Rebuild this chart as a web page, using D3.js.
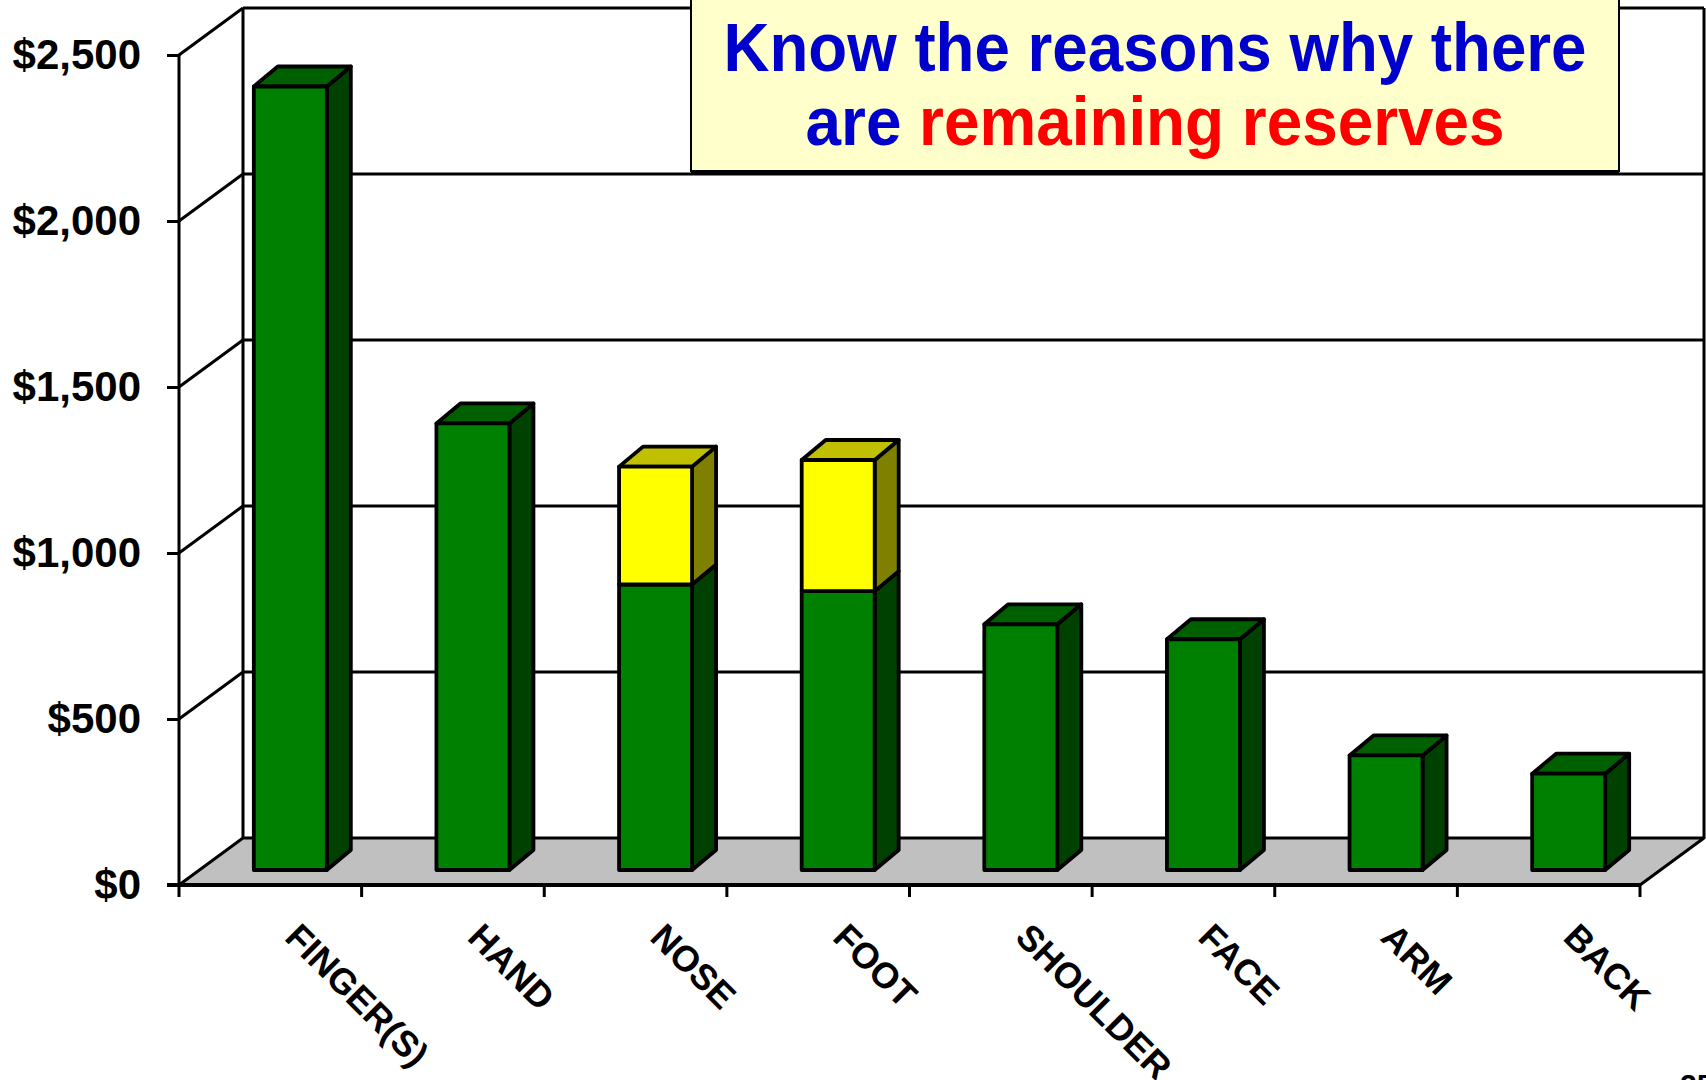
<!DOCTYPE html>
<html>
<head>
<meta charset="utf-8">
<script src="https://cdn.jsdelivr.net/npm/d3@7"></script>
<style>
  html, body { margin: 0; padding: 0; background: #ffffff; }
  svg { display: block; }
  text { font-family: "Liberation Sans", Arial, Helvetica, sans-serif; font-weight: bold; }
</style>
</head>
<body>
<svg id="chart" width="1706" height="1080"></svg>
<script>
// ---------------- data ----------------
const categories = ["FINGER(S)", "HAND", "NOSE", "FOOT", "SHOULDER", "FACE", "ARM", "BACK"];
const paidValues = [2360, 1345, 860, 840, 740, 695, 345, 290];
const reserveValues = [0, 0, 355, 395, 0, 0, 0, 0];
const yTicks = [0, 500, 1000, 1500, 2000, 2500];
const titleLine1 = "Know the reasons why there";
const titleLine2a = "are ";
const titleLine2b = "remaining reserves";
const pageNumber = "25";

// ---------------- layout ----------------
const svg = d3.select("#chart");
const plot = { left: 179, right: 1640, bottom: 885, top: 55 };
const wall = { dx: 64, dy: -47 };
const barShift = { dx: 20, dy: -15 };
const barDepth = { dx: 24, dy: -20 };
const barWidth = 73;
const lw = 3;
const barLw = 3.8;

const y = d3.scaleLinear().domain([0, 2500]).range([plot.bottom, plot.top]);
const x = d3.scaleBand().domain(categories).range([plot.left, plot.right]).padding(0);

const colors = {
  green: { front: "#008000", top: "#006000", side: "#004000" },
  yellow: { front: "#ffff00", top: "#c0c000", side: "#808000" }
};

// ---------------- walls ----------------
const gWalls = svg.append("g");
gWalls.selectAll("line.bgrid").data(yTicks.filter(d => d > 0)).enter().append("line")
  .attr("x1", plot.left + wall.dx).attr("x2", plot.right + wall.dx)
  .attr("y1", d => y(d) + wall.dy).attr("y2", d => y(d) + wall.dy)
  .attr("stroke", "#000").attr("stroke-width", lw);
gWalls.selectAll("line.sgrid").data(yTicks.filter(d => d > 0)).enter().append("line")
  .attr("x1", plot.left).attr("x2", plot.left + wall.dx)
  .attr("y1", d => y(d)).attr("y2", d => y(d) + wall.dy)
  .attr("stroke", "#000").attr("stroke-width", lw);
[plot.left + wall.dx, plot.right + wall.dx].forEach(xx => {
  gWalls.append("line")
    .attr("x1", xx).attr("x2", xx)
    .attr("y1", y(0) + wall.dy).attr("y2", y(2500) + wall.dy)
    .attr("stroke", "#000").attr("stroke-width", lw);
});

// floor
const floorPts = [
  [plot.left, y(0)], [plot.right, y(0)],
  [plot.right + wall.dx, y(0) + wall.dy], [plot.left + wall.dx, y(0) + wall.dy]
];
svg.append("polygon")
  .attr("points", floorPts.map(p => p.join(",")).join(" "))
  .attr("fill", "#c0c0c0").attr("stroke", "#000").attr("stroke-width", lw)
  .attr("stroke-linejoin", "round");

// ---------------- bars ----------------
const segments = [];
categories.forEach((c, i) => {
  const g = paidValues[i], r = reserveValues[i];
  segments.push({ c, v0: 0, v1: g, col: colors.green, isTop: r === 0 });
  if (r > 0) segments.push({ c, v0: g, v1: g + r, col: colors.yellow, isTop: true });
});

const gBars = svg.append("g")
  .attr("stroke", "#000").attr("stroke-width", barLw).attr("stroke-linejoin", "round");

segments.forEach(s => {
  const x0 = x(s.c) + x.bandwidth() / 2 - barWidth / 2 + barShift.dx;
  const x1 = x0 + barWidth;
  const yt = y(s.v1) + barShift.dy;
  const yb = y(s.v0) + barShift.dy;
  gBars.append("polygon")
    .attr("points", [[x1, yt], [x1 + barDepth.dx, yt + barDepth.dy], [x1 + barDepth.dx, yb + barDepth.dy], [x1, yb]].map(p => p.join(",")).join(" "))
    .attr("fill", s.col.side);
  if (s.isTop) {
    gBars.append("polygon")
      .attr("points", [[x0, yt], [x0 + barDepth.dx, yt + barDepth.dy], [x1 + barDepth.dx, yt + barDepth.dy], [x1, yt]].map(p => p.join(",")).join(" "))
      .attr("fill", s.col.top);
  }
  gBars.append("rect")
    .attr("x", x0).attr("y", yt).attr("width", barWidth).attr("height", yb - yt)
    .attr("fill", s.col.front);
});

// ---------------- axes ----------------
const yAxis = d3.axisLeft(y).tickValues(yTicks).tickSize(12).tickPadding(26)
  .tickFormat(d => "$" + d3.format(",")(d));
const gy = svg.append("g").attr("transform", `translate(${plot.left},0)`).call(yAxis);
gy.select(".domain").remove();
gy.selectAll(".tick line").attr("stroke", "#000").attr("stroke-width", lw);
gy.selectAll(".tick text").attr("font-size", 42).attr("fill", "#000")
  .attr("font-family", '"Liberation Sans", Arial, sans-serif').attr("font-weight", "bold");
svg.append("line")
  .attr("x1", plot.left).attr("x2", plot.left).attr("y1", y(2500)).attr("y2", y(0))
  .attr("stroke", "#000").attr("stroke-width", lw);

svg.append("line")
  .attr("x1", plot.left - 12).attr("x2", plot.right).attr("y1", y(0)).attr("y2", y(0))
  .attr("stroke", "#000").attr("stroke-width", lw + 1);
const boundaries = categories.map(c => x(c)).concat([x.range()[1]]);
svg.selectAll("line.xtick").data(boundaries).enter().append("line")
  .attr("x1", d => d).attr("x2", d => d).attr("y1", y(0)).attr("y2", y(0) + 12)
  .attr("stroke", "#000").attr("stroke-width", lw);

svg.selectAll("text.xlab").data(categories).enter().append("text")
  .attr("transform", d => `translate(${x(d) + x.bandwidth() / 2 + 13},${939}) rotate(45)`)
  .attr("font-size", 36).attr("fill", "#000").attr("text-anchor", "start")
  .text(d => d);

// ---------------- title box ----------------
const box = { x: 691, y: -5, w: 928, h: 176 };
svg.append("rect")
  .attr("x", box.x).attr("y", box.y).attr("width", box.w).attr("height", box.h)
  .attr("fill", "#ffffcc").attr("stroke", "#000").attr("stroke-width", 2);
svg.append("line")
  .attr("x1", box.x).attr("x2", box.x + box.w).attr("y1", box.y + box.h + 1).attr("y2", box.y + box.h + 1)
  .attr("stroke", "#000").attr("stroke-width", 3);

const cx = box.x + box.w / 2;
function fitText(sel, target, baseX, baseY) {
  const natural = sel.node().getComputedTextLength();
  const sx = target / natural;
  sel.attr("transform", `translate(${baseX},${baseY}) scale(${sx},1)`);
}
const t1 = svg.append("text").attr("x", 0).attr("y", 0).attr("text-anchor", "middle")
  .attr("font-size", 68).attr("fill", "#0000cc").text(titleLine1);
fitText(t1, 863, cx, 71);
const t2 = svg.append("text").attr("x", 0).attr("y", 0).attr("text-anchor", "middle")
  .attr("font-size", 68);
t2.append("tspan").attr("fill", "#0000cc").text(titleLine2a);
t2.append("tspan").attr("fill", "#ff0000").text(titleLine2b);
fitText(t2, 699, cx, 145);

svg.append("text").attr("x", 1680).attr("y", 1095).attr("font-size", 30)
  .attr("font-weight", "normal").attr("fill", "#000").text(pageNumber);
</script>
</body>
</html>
